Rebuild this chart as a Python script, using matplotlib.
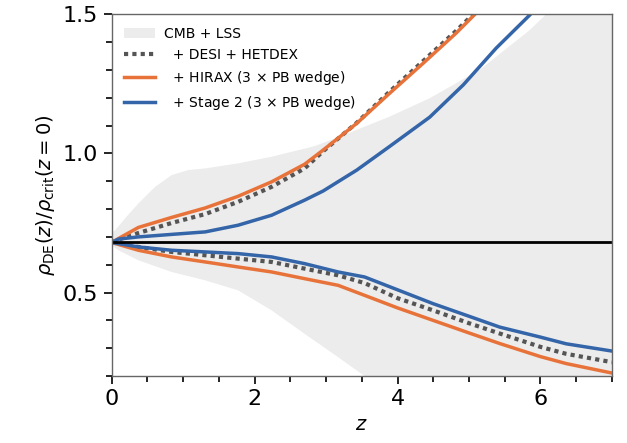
import matplotlib
matplotlib.use('Agg')
import matplotlib.pyplot as plt
from matplotlib.ticker import MultipleLocator

# CMB + LSS band
band_z_hi = [0, 0.05, 0.2, 0.375, 0.61, 0.84, 1.07, 1.31, 1.77, 2.24, 2.84, 3.19, 3.89, 4.45, 5.15, 5.85, 6.08, 7]
band_hi = [0.715, 0.724, 0.77, 0.82, 0.88, 0.922, 0.94, 0.946, 0.964, 0.988, 1.026, 1.06, 1.132, 1.198, 1.30, 1.443, 1.5, 1.8]
band_z_lo = [0, 0.095, 0.375, 0.84, 1.31, 1.77, 2.24, 2.70, 3.17, 3.54, 4.0, 7]
band_lo = [0.67, 0.652, 0.616, 0.574, 0.544, 0.508, 0.436, 0.352, 0.268, 0.2, 0.1, 0.0]

z_up = [0, 0.095, 0.375, 0.84, 1.31, 1.77, 2.24, 2.70]
z_dn = [0, 0.375, 0.84, 1.31, 1.77, 2.24, 2.70, 3.17, 3.54, 4.0, 4.5, 5.0, 5.43, 6.0, 6.36, 7]

# + DESI + HETDEX
desi_z_hi = z_up + [2.96, 3.43, 3.89, 4.36, 4.82, 5.08, 5.3]
desi_hi = [0.68, 0.69, 0.714, 0.75, 0.782, 0.826, 0.88, 0.946, 1.008, 1.11, 1.222, 1.332, 1.44, 1.505, 1.56]
desi_lo = [0.68, 0.664, 0.646, 0.634, 0.622, 0.61, 0.586, 0.562, 0.534, 0.48, 0.436, 0.39, 0.353, 0.305, 0.28, 0.25]

# + HIRAX
hirax_z_hi = z_up + [2.96, 3.43, 3.89, 4.36, 4.82, 5.10, 5.3]
hirax_hi = [0.68, 0.694, 0.734, 0.77, 0.804, 0.846, 0.898, 0.961, 1.012, 1.108, 1.216, 1.324, 1.432, 1.504, 1.55]
hirax_lo = [0.68, 0.652, 0.628, 0.61, 0.592, 0.574, 0.55, 0.526, 0.49, 0.445, 0.40, 0.355, 0.317, 0.27, 0.245, 0.211]

# + Stage 2
st2_z_hi = z_up + [2.96, 3.43, 3.89, 4.45, 4.92, 5.38, 5.85, 6.0]
st2_hi = [0.68, 0.692, 0.70, 0.709, 0.718, 0.742, 0.778, 0.832, 0.865, 0.94, 1.025, 1.13, 1.246, 1.378, 1.497, 1.54]
st2_lo = [0.68, 0.664, 0.652, 0.646, 0.64, 0.628, 0.604, 0.574, 0.556, 0.51, 0.46, 0.415, 0.376, 0.34, 0.316, 0.29]

rho_fid = 0.682

orange = '#e8733a'
blue = '#3465a8'
grey = '#555555'

fig = plt.figure(figsize=(6.27, 4.43), dpi=100)
ax = fig.add_axes([0.178, 0.151, 0.798, 0.817])

# closed outline of the band: upper edge left->right, lower edge right->left
ax.fill(band_z_hi + band_z_lo[::-1], band_hi + band_lo[::-1], color='#ececec', lw=0, label='CMB + LSS')
ax.plot(desi_z_hi, desi_hi, color=grey, lw=3, ls=(0, (1, 1)), label='  + DESI + HETDEX')
ax.plot(z_dn, desi_lo, color=grey, lw=3, ls=(0, (1, 1)))
ax.plot(hirax_z_hi, hirax_hi, color=orange, lw=2.5, label=r'  + HIRAX (3 $\times$ PB wedge)')
ax.plot(z_dn, hirax_lo, color=orange, lw=2.5)
ax.plot(st2_z_hi, st2_hi, color=blue, lw=2.5, label=r'  + Stage 2 (3 $\times$ PB wedge)')
ax.plot(z_dn, st2_lo, color=blue, lw=2.5)
ax.axhline(rho_fid, color='k', lw=2)

ax.set_xlim(0, 7)
ax.set_ylim(0.2, 1.5)
ax.xaxis.set_major_locator(MultipleLocator(2))
ax.xaxis.set_minor_locator(MultipleLocator(0.5))
ax.yaxis.set_major_locator(MultipleLocator(0.5))
ax.yaxis.set_minor_locator(MultipleLocator(0.1))
ax.tick_params(which='major', length=6, width=1.2, labelsize=16, direction='out')
ax.tick_params(which='minor', length=4, width=1.2, direction='out')
for s in ax.spines.values():
    s.set_color('#666666')
    s.set_linewidth(1)

ax.set_xlabel(r'$z$', fontsize=14)
ax.set_ylabel(r'$\rho_{\rm DE}(z)/\rho_{\rm crit}(z=0)$', fontsize=14)
ax.legend(loc='upper left', frameon=False, fontsize=10, handlelength=2.2, handletextpad=0.7)

plt.savefig('out.png', dpi=100)
